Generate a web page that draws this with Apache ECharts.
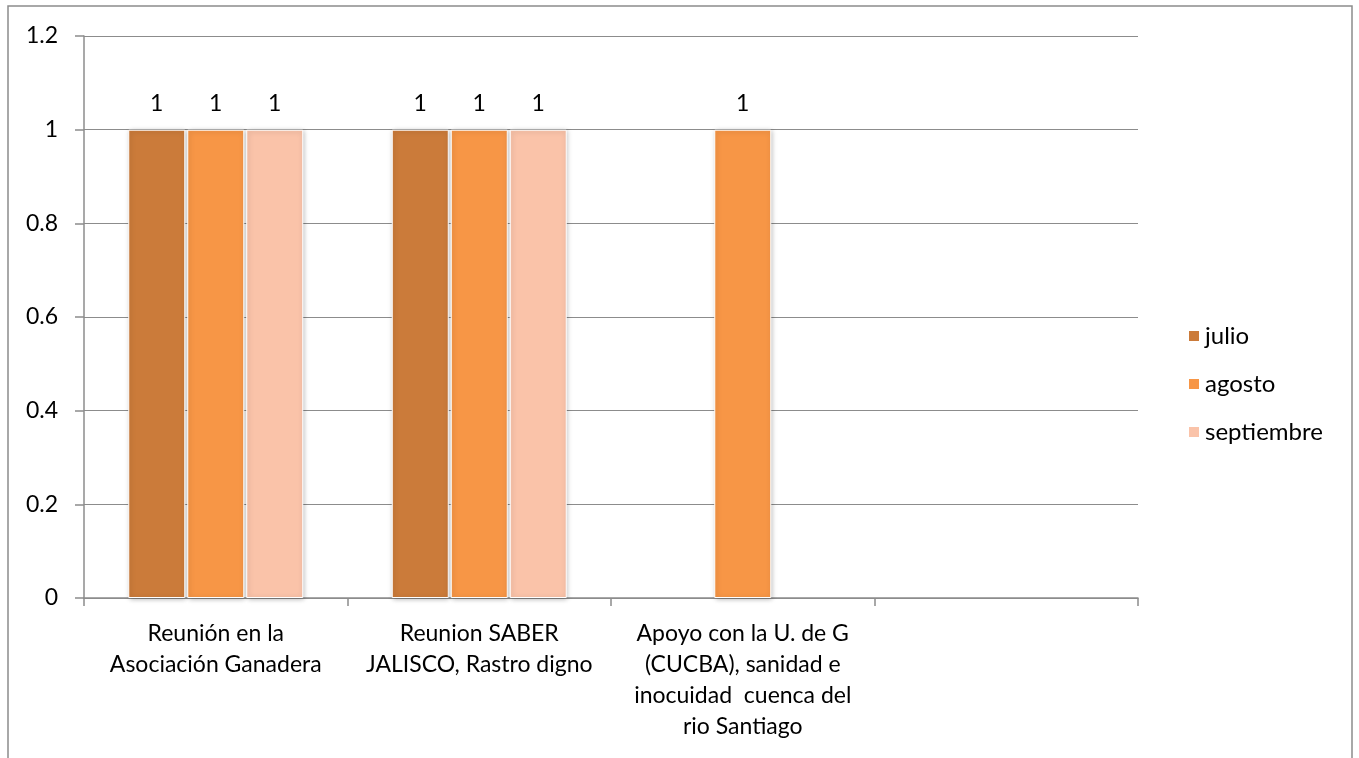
<!DOCTYPE html>
<html><head><meta charset="utf-8">
<script src="https://cdn.jsdelivr.net/npm/echarts@6/dist/echarts.min.js"></script>
<style>html,body{margin:0;padding:0;background:#fff}#c{width:1359px;height:758px}</style>
</head><body><div id="c"></div>
<script>
const categories = ['Reunión en la\nAsociación Ganadera', 'Reunion SABER\nJALISCO, Rastro digno', 'Apoyo con la U. de G\n(CUCBA), sanidad e\ninocuidad  cuenca del\nrio Santiago', ''];
const julio = [1, 1, null, null];
const agosto = [1, 1, 1, null];
const septiembre = [1, 1, null, null];
const yTicks = [0, 0.2, 0.4, 0.6, 0.8, 1, 1.2];

const FONT = 'Lato';
const chart = echarts.init(document.getElementById('c'));
function bar(name, data, color) {
  return {
    name, type: 'bar', data, barWidth: 57, barGap: '3.5%',
    itemStyle: { color, borderColor: '#fff', borderWidth: 1, shadowColor: 'rgba(0,0,0,0.25)', shadowBlur: 5, shadowOffsetX: 1, shadowOffsetY: 1 },
    label: { show: true, position: 'top', distance: 15, fontFamily: FONT, fontSize: 23, color: '#000' }
  };
}
chart.setOption({
  animation: false,
  textStyle: { fontFamily: FONT },
  graphic: [{ type: 'rect', shape: { x: 8, y: 6, width: 1344, height: 800 }, style: { fill: 'none', stroke: '#8c8c8c', lineWidth: 1.5 }, silent: true }],
  grid: { left: 84, right: 221, top: 36, bottom: 160, containLabel: false },
  legend: {
    orient: 'vertical', left: 1182, top: 319, itemGap: 24, itemWidth: 12, itemHeight: 12, icon: 'rect',
    textStyle: { fontFamily: FONT, fontSize: 24, color: '#000' },
    data: ['julio', 'agosto', 'septiembre']
  },
  xAxis: {
    type: 'category', data: categories,
    axisLine: { lineStyle: { color: '#8c8c8c', width: 1.5 } },
    axisTick: { show: true, length: 8, lineStyle: { color: '#8c8c8c', width: 1.5 } },
    axisLabel: { interval: 0, fontFamily: FONT, fontSize: 23, color: '#000', lineHeight: 31, margin: 20, align: 'center' }
  },
  yAxis: {
    type: 'value', min: 0, max: 1.2, interval: 0.2,
    axisLine: { show: true, lineStyle: { color: '#8c8c8c', width: 1.5 } },
    axisTick: { show: true, length: 9, lineStyle: { color: '#8c8c8c', width: 1.5 } },
    splitLine: { lineStyle: { color: '#8c8c8c', width: 1.2 } },
    axisLabel: { fontFamily: FONT, fontSize: 23, color: '#000', margin: 26, formatter: v => { const t = yTicks.find(x => Math.abs(x - v) < 1e-9); return t === undefined ? '' : String(t); } }
  },
  series: [bar('julio', julio, '#CB7B3A'), bar('agosto', agosto, '#F79646'), bar('septiembre', septiembre, '#FAC3A9')]
});
</script></body></html>
